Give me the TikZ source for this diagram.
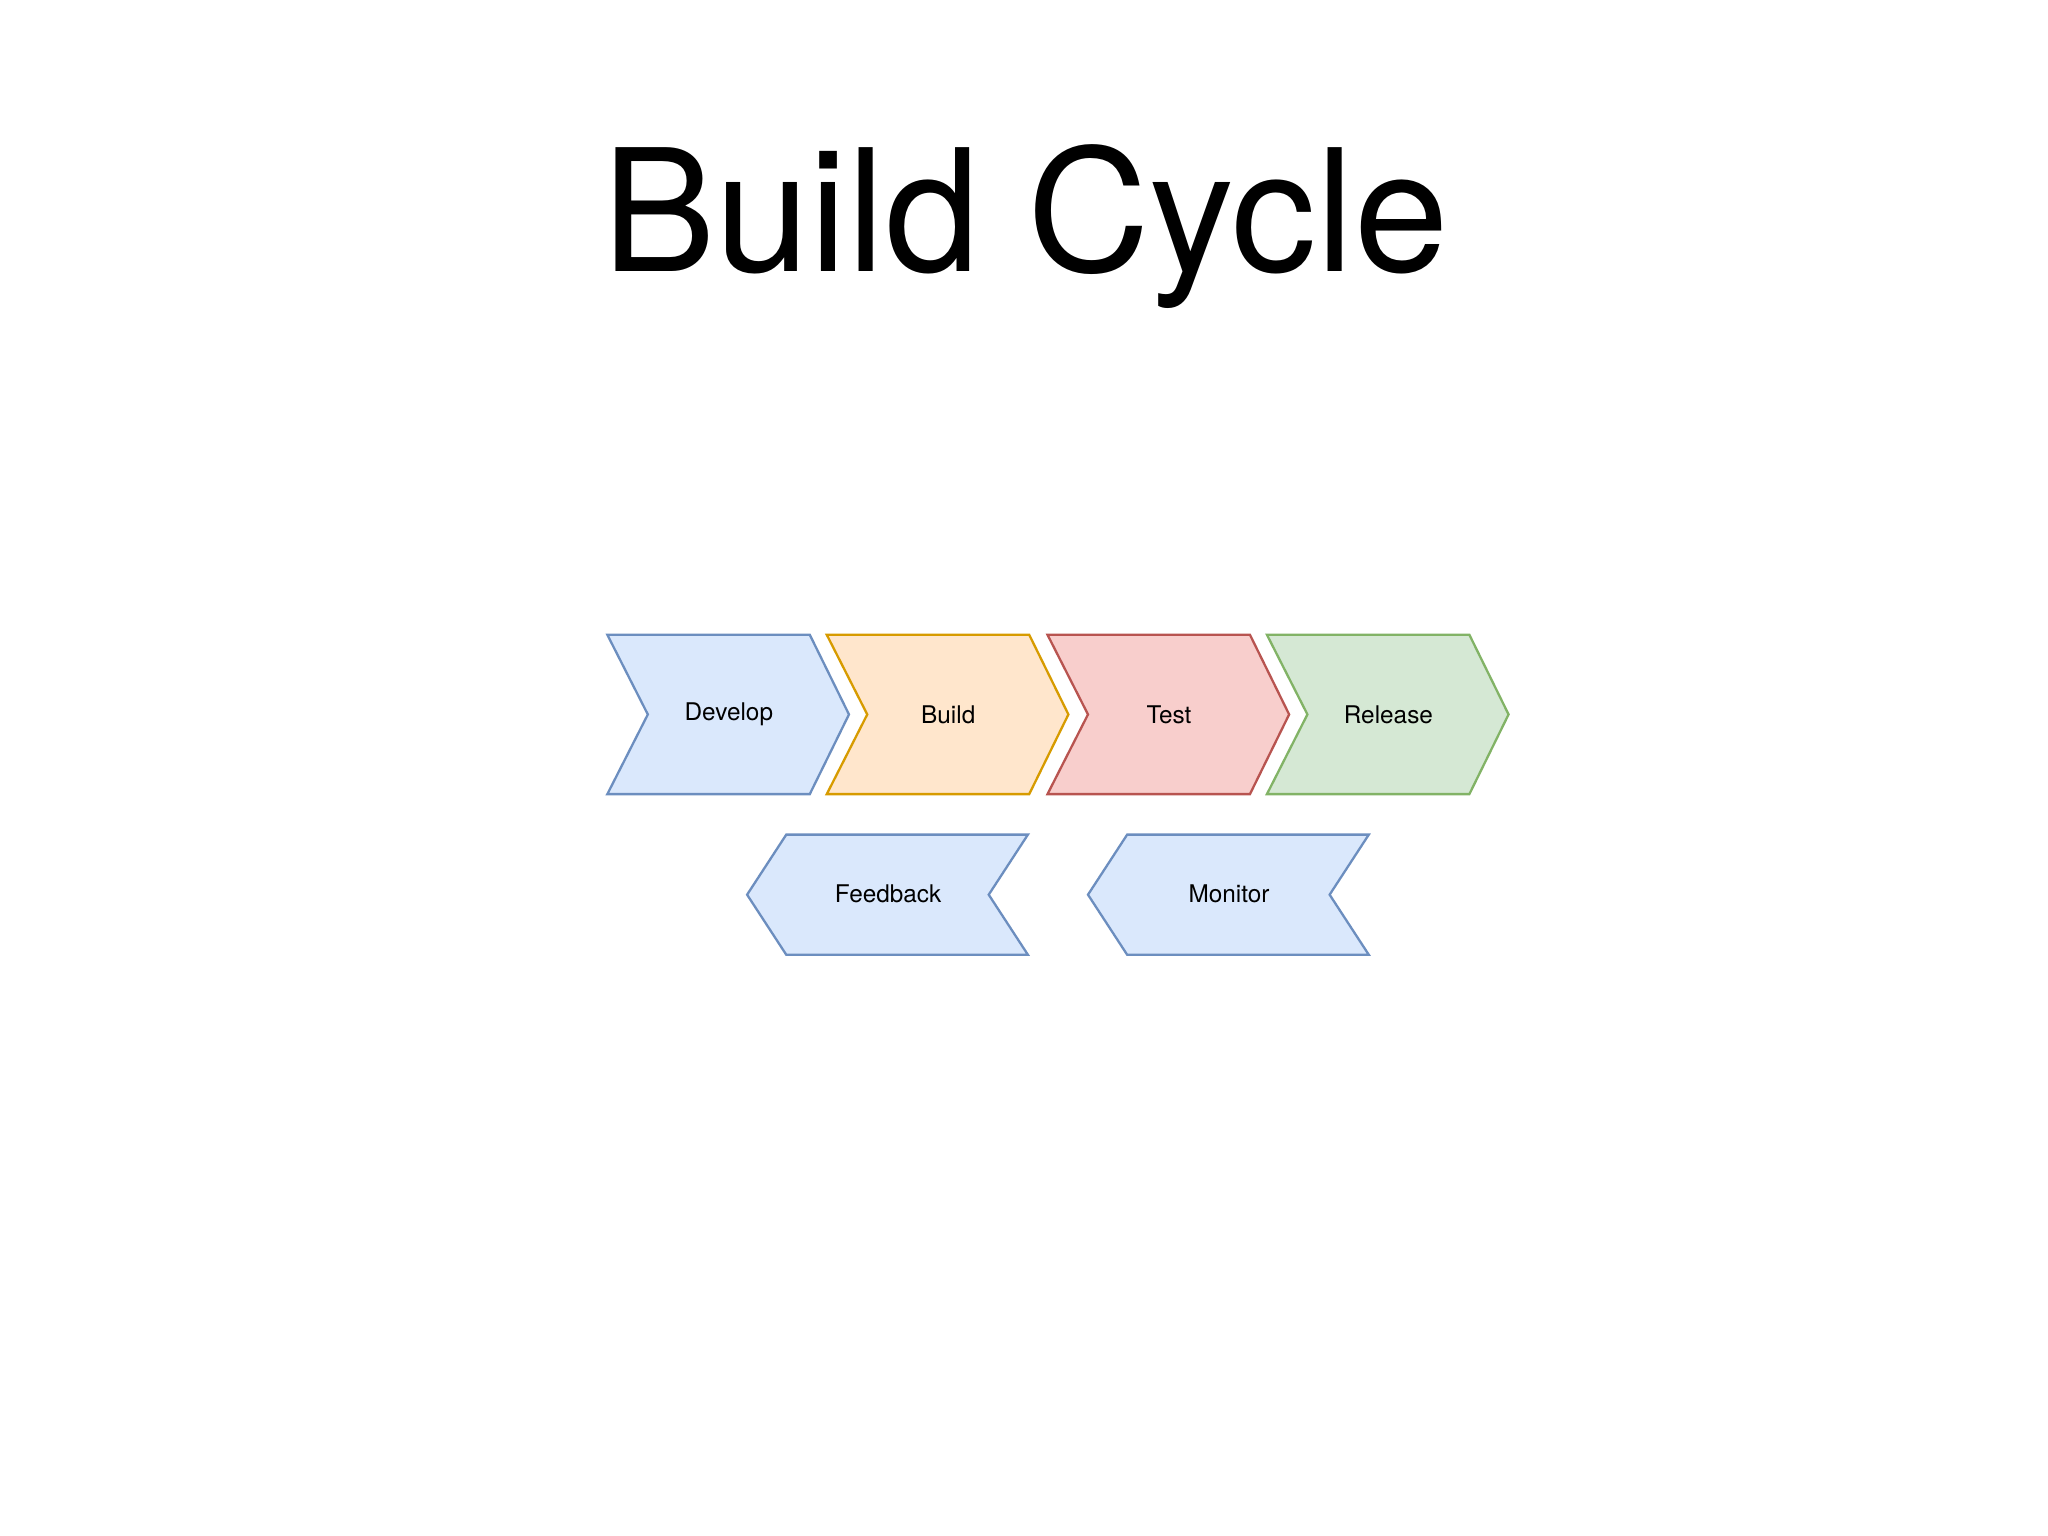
\documentclass[tikz,border=0pt]{standalone}
\usepackage{fontspec}
\setmainfont{TeX Gyre Heros}
\definecolor{bF}{HTML}{DAE8FC}\definecolor{bS}{HTML}{6C8EBF}
\definecolor{oF}{HTML}{FFE6CC}\definecolor{oS}{HTML}{D79B00}
\definecolor{rF}{HTML}{F8CECC}\definecolor{rS}{HTML}{B85450}
\definecolor{gF}{HTML}{D5E8D4}\definecolor{gS}{HTML}{82B366}
\tikzset{chev/.style={line width=0.5pt, line join=miter},
lbl/.style={font=\fontsize{5.3pt}{6pt}\selectfont, inner sep=0pt}}
\begin{document}
\begin{tikzpicture}[x=0.01cm,y=-0.01cm]
\useasboundingbox (0,0) rectangle (1568,1176);
\node[font=\fontsize{37pt}{40pt}\selectfont, anchor=base] (title) at (785,208) {Build Cycle};
% right chevrons
\foreach \x/\f/\s/\t/\n in {465/bF/bS/Develop/dev,633/oF/oS/Build/bld,802/rF/rS/Test/tst,970/gF/gS/Release/rel}{
  \draw[chev, fill=\f, draw=\s] (\x,486) -- (\x+155,486) -- (\x+185,547) -- (\x+155,608) -- (\x,608) -- (\x+31,547) -- cycle;
  \node[lbl] (\n) at (\x+93,547) {\t};
}
% left chevrons
\foreach \x/\t/\n in {572/Feedback/fb,833/Monitor/mon}{
  \draw[chev, fill=bF, draw=bS] (\x,685) -- (\x+30,639) -- (\x+215,639) -- (\x+185,685) -- (\x+215,731) -- (\x+30,731) -- cycle;
  \node[lbl] (\n) at (\x+108,684) {\t};
}
\end{tikzpicture}
\end{document}
